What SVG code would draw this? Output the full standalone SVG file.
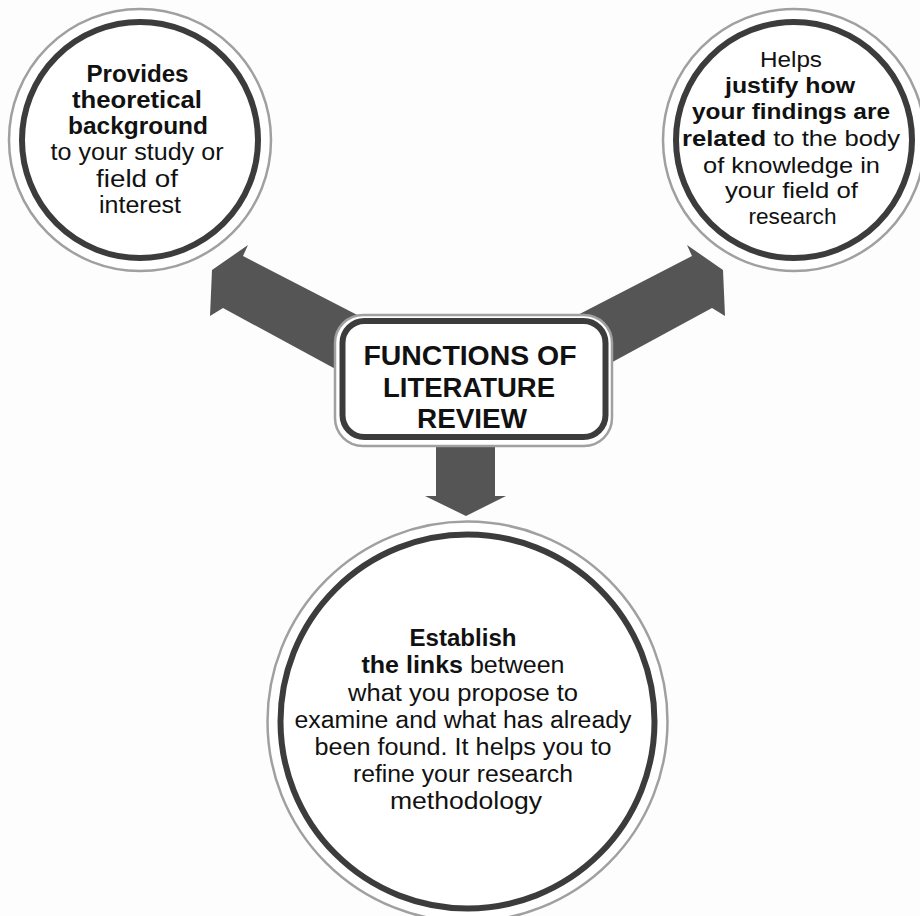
<svg xmlns="http://www.w3.org/2000/svg" width="920" height="916" viewBox="0 0 920 916">
<style>
.arrow{fill:#555555}
.ring-outer{fill:#ffffff;stroke:#a0a0a0;stroke-width:2.5}
.ring-inner{fill:#ffffff;stroke:#3c3c3c;stroke-width:6}
.t{font-family:"Liberation Sans",Arial,sans-serif;font-size:23px;fill:#111111;text-anchor:middle}
.r{font-size:22.5px}
.b{font-weight:bold}
.title{font-family:"Liberation Sans",Arial,sans-serif;font-size:27.5px;font-weight:bold;fill:#111111;text-anchor:middle}
</style>
<rect x="0" y="0" width="920" height="916" fill="#fdfdfd"/>
<g id="connectors">
  <polygon class="arrow" points="248,245 212,270 210,316 223,308 400,404 400,337 243,256"/>
  <polygon class="arrow" points="687,245 723,270 725,316 712,308 535,404 535,337 692,256"/>
  <polygon class="arrow" points="436,440 495,440 495,496 506,496 466,516 425,496 436,496"/>
</g>
<g id="center">
  <rect class="ring-outer" x="335" y="315" width="277" height="131" rx="28"/>
  <rect class="ring-inner" x="342.5" y="321" width="263" height="116" rx="22"/>
  <text class="title" x="470" y="365" textLength="213" lengthAdjust="spacingAndGlyphs">FUNCTIONS OF</text>
  <text class="title" x="469" y="397" textLength="172" lengthAdjust="spacingAndGlyphs">LITERATURE</text>
  <text class="title" x="472" y="428" textLength="110" lengthAdjust="spacingAndGlyphs">REVIEW</text>
</g>
<g id="node-left">
  <circle class="ring-outer" cx="140" cy="140" r="131"/>
  <circle class="ring-inner" cx="140" cy="140" r="118"/>
  <text class="t b" x="137.5" y="82" textLength="102" lengthAdjust="spacingAndGlyphs">Provides</text>
  <text class="t b" x="137" y="108" textLength="130" lengthAdjust="spacingAndGlyphs">theoretical</text>
  <text class="t b" x="138" y="134" textLength="140" lengthAdjust="spacingAndGlyphs">background</text>
  <text class="t" x="137" y="160" textLength="173" lengthAdjust="spacingAndGlyphs">to your study or</text>
  <text class="t" x="137" y="187" textLength="82" lengthAdjust="spacingAndGlyphs">field of</text>
  <text class="t" x="140" y="213" textLength="82" lengthAdjust="spacingAndGlyphs">interest</text>
</g>
<g id="node-right">
  <circle class="ring-outer" cx="794" cy="140" r="131"/>
  <circle class="ring-inner" cx="794" cy="140" r="118"/>
  <text class="t r" x="791" y="67" textLength="62" lengthAdjust="spacingAndGlyphs">Helps</text>
  <text class="t r b" x="790" y="93" textLength="130" lengthAdjust="spacingAndGlyphs">justify how</text>
  <text class="t r b" x="791" y="119" textLength="198" lengthAdjust="spacingAndGlyphs">your findings are</text>
  <text class="t r" x="791" y="146" textLength="218" lengthAdjust="spacingAndGlyphs"><tspan font-weight="bold">related</tspan> to the body</text>
  <text class="t r" x="791.5" y="172.5" textLength="177" lengthAdjust="spacingAndGlyphs">of knowledge in</text>
  <text class="t r" x="791.5" y="198" textLength="133" lengthAdjust="spacingAndGlyphs">your field of</text>
  <text class="t r" x="792.5" y="224" textLength="88" lengthAdjust="spacingAndGlyphs">research</text>
</g>
<g id="node-bottom">
  <circle class="ring-outer" cx="467.5" cy="721.5" r="200"/>
  <circle class="ring-inner" cx="467.5" cy="721.5" r="187"/>
  <text class="t b" x="463" y="646" textLength="107" lengthAdjust="spacingAndGlyphs">Establish</text>
  <text class="t" x="463" y="673" textLength="203" lengthAdjust="spacingAndGlyphs"><tspan font-weight="bold">the links</tspan> between</text>
  <text class="t" x="463" y="701" textLength="230" lengthAdjust="spacingAndGlyphs">what you propose to</text>
  <text class="t" x="463" y="728" textLength="337" lengthAdjust="spacingAndGlyphs">examine and what has already</text>
  <text class="t" x="463" y="755" textLength="297" lengthAdjust="spacingAndGlyphs">been found. It helps you to</text>
  <text class="t" x="463" y="782" textLength="220" lengthAdjust="spacingAndGlyphs">refine your research</text>
  <text class="t" x="466" y="809" textLength="152" lengthAdjust="spacingAndGlyphs">methodology</text>
</g>
</svg>
